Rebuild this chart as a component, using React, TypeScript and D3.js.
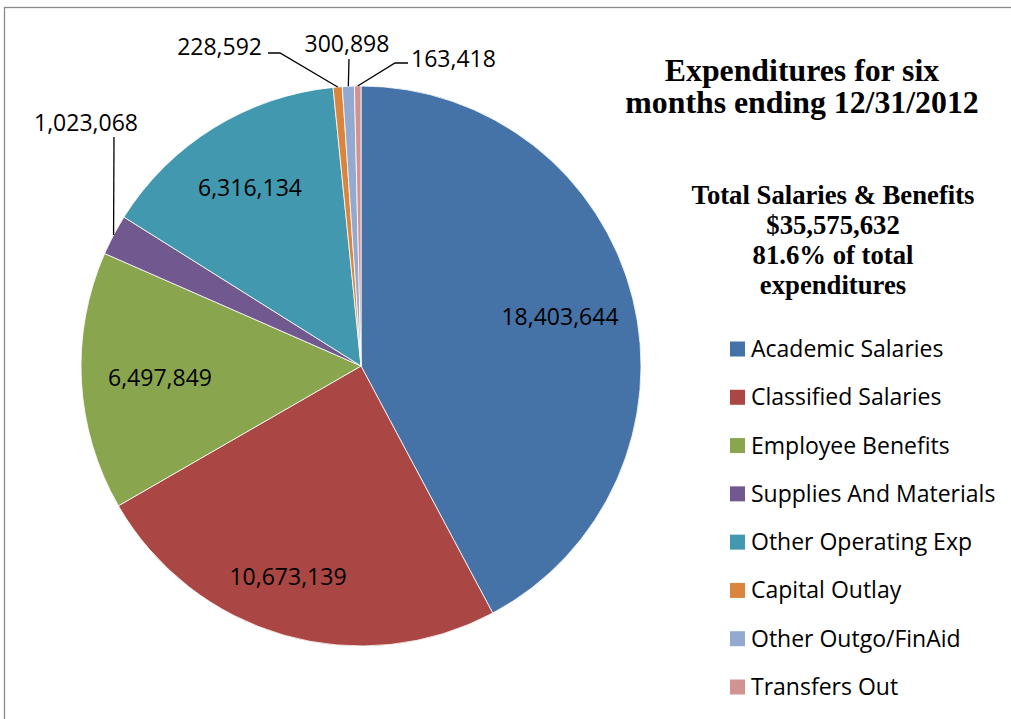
import React from "react";
import * as d3 from "d3";

const categories = [
  "Academic Salaries",
  "Classified Salaries",
  "Employee Benefits",
  "Supplies And Materials",
  "Other Operating Exp",
  "Capital Outlay",
  "Other Outgo/FinAid",
  "Transfers Out",
];
const values = [18403644, 10673139, 6497849, 1023068, 6316134, 228592, 300898, 163418];
const colors = ["#4572A7", "#AA4643", "#89A54E", "#71588F", "#4198AF", "#DB843D", "#93A9CF", "#D19392"];
const titleLines = ["Expenditures for six", "months ending 12/31/2012"];
const noteLines = ["Total Salaries & Benefits", "$35,575,632", "81.6% of total", "expenditures"];

// layout (label placement) — not data
const CX = 361, CY = 366, R = 280;
type LabelLayout = { x: number; y: number; anchor: string; path?: [number, number][] };
const labelLayout: LabelLayout[] = [
  { x: 560, y: 325, anchor: "middle" },
  { x: 288, y: 585, anchor: "middle" },
  { x: 160, y: 386, anchor: "middle" },
  { x: 86, y: 131, anchor: "middle", path: [[114, 137]] },
  { x: 250, y: 196, anchor: "middle" },
  { x: 262, y: 55, anchor: "end", path: [[280, 53], [268, 53]] },
  { x: 347, y: 52, anchor: "middle", path: [[349, 59]] },
  { x: 411, y: 67, anchor: "start", path: [[395, 63], [408, 63]] },
];

const fmt = d3.format(",");

export default function App() {
  const data = categories.map((c, i) => ({ name: c, value: values[i], color: colors[i] }));
  const pie = d3.pie<any>().sort(null).value((d: any) => d.value);
  const arcs = pie(data);
  const arc = d3.arc<any>().innerRadius(0).outerRadius(R);
  const line = d3.line();

  const legendY = d3.scaleLinear().domain([0, categories.length - 1]).range([349, 687]);

  return (
    <svg
      width={1011}
      height={719}
      style={{ position: "absolute", left: 0, top: 0, background: "#fff" }}
    >
      <rect x={4.5} y={7.5} width={1012} height={720} fill="#fff" stroke="#8c8c8c" strokeWidth={1.3} />
      <g transform={`translate(${CX},${CY})`}>
        {arcs.map((a, i) => (
          <path key={i} d={arc(a) as string} fill={a.data.color} stroke="#fff" strokeWidth={0.8} />
        ))}
      </g>
      {arcs.map((a, i) => {
        const L = labelLayout[i];
        const mid = (a.startAngle + a.endAngle) / 2;
        const p: [number, number] = [CX + R * Math.sin(mid), CY - R * Math.cos(mid)];
        return (
          <g key={i}>
            {L.path && (
              <path d={line([p, ...L.path]) as string} fill="none" stroke="#000" strokeWidth={1.3} />
            )}
            <text
              x={L.x}
              y={L.y}
              textAnchor={L.anchor as any}
              fontFamily="'Open Sans', sans-serif"
              fontSize={23}
              fill="#000"
            >
              {fmt(a.data.value)}
            </text>
          </g>
        );
      })}
      {titleLines.map((t, i) => (
        <text
          key={i}
          x={802}
          y={81 + i * 32}
          textAnchor="middle"
          fontFamily="'Liberation Serif', 'Times New Roman', serif"
          fontWeight="bold"
          fontSize={31.8}
        >
          {t}
        </text>
      ))}
      {noteLines.map((t, i) => (
        <text
          key={i}
          x={833}
          y={204 + i * 30}
          textAnchor="middle"
          fontFamily="'Liberation Serif', 'Times New Roman', serif"
          fontWeight="bold"
          fontSize={26.7}
        >
          {t}
        </text>
      ))}
      {data.map((d, i) => (
        <g key={i} transform={`translate(730,${legendY(i)})`}>
          <rect x={0} y={-7.5} width={15} height={15} fill={d.color} />
          <text x={21} y={8} fontFamily="'Open Sans', sans-serif" fontSize={23} fill="#000">
            {d.name}
          </text>
        </g>
      ))}
    </svg>
  );
}
